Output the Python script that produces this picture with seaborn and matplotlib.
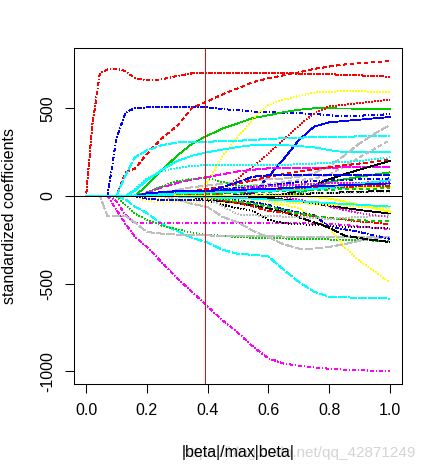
import pandas as pd
import seaborn as sns
import matplotlib.pyplot as plt

# fraction |beta|/max|beta| at which the path values below were read
frac = [0.0, 0.02, 0.045, 0.07, 0.10, 0.13, 0.16, 0.20,
        0.25, 0.30, 0.35, 0.40, 0.45, 0.50, 0.55, 0.60,
        0.65, 0.70, 0.75, 0.80, 0.85, 0.90, 0.95, 1.00]

# positive paths
p01 = [0, 400, 700, 722, 726, 712, 672, 660, 665, 685, 700, 701, 700, 700, 700, 700, 700, 698, 697, 695, 690, 688, 684, 680]
p02 = [0, 0, 0, 0, 330, 477, 500, 505, 505, 505, 505, 505, 495, 490, 482, 478, 475, 472, 468, 460, 456, 458, 462, 467]
p03 = [0, 0, 0, 0, 0, 136, 155, 240, 330, 400, 505, 540, 580, 615, 650, 672, 688, 705, 725, 738, 750, 757, 763, 770]
p04 = [0, 0, 0, 0, 0, 0, 0, 60, 150, 230, 300, 345, 385, 415, 445, 460, 478, 492, 500, 500, 499, 498, 497, 497]
p05 = [0, 0, 0, 0, 0, 0, 0, 0, 0, 0, 0, 80, 230, 340, 440, 520, 550, 570, 590, 595, 597, 597, 595, 592]
p06 = [0, 0, 0, 0, 0, 0, 0, 0, 0, 0, 0, 20, 50, 100, 170, 240, 320, 400, 470, 510, 520, 530, 540, 550]
p07 = [0, 0, 0, 0, 0, 0, 0, 0, 0, 0, 0, 0, 0, 5, 15, 110, 210, 318, 395, 420, 428, 435, 443, 450]
p08 = [0, 0, 0, 0, 0, 120, 220, 260, 290, 305, 310, 310, 312, 315, 320, 325, 330, 333, 335, 337, 338, 340, 340, 340]
p09 = [0, 0, 0, 0, 0, 0, 30, 90, 150, 200, 230, 250, 265, 280, 290, 292, 290, 285, 278, 262, 250, 250, 250, 250]
p10 = [0, 0, 0, 0, 0, 0, 0, 5, 20, 35, 50, 60, 70, 80, 90, 95, 100, 110, 130, 170, 230, 300, 355, 405]
p11 = [0, 0, 0, 0, 0, 0, 0, 0, 0, 10, 20, 30, 40, 50, 60, 70, 80, 90, 100, 120, 170, 220, 270, 318]
p12 = [0, 0, 0, 0, 0, 0, 40, 100, 140, 160, 172, 176, 176, 177, 178, 178, 179, 180, 185, 190, 195, 200, 210, 220]
p13 = [0, 0, 0, 0, 0, 0, 0, 20, 50, 75, 95, 108, 125, 140, 150, 158, 160, 160, 161, 162, 163, 164, 165, 165]
p14 = [0, 0, 0, 0, 0, 0, 0, 20, 55, 85, 98, 102, 80, 60, 55, 55, 56, 57, 58, 58, 59, 60, 60, 60]
p15 = [0, 0, 0, 0, 0, 0, 0, 0, 0, 0, 0, 0, 0, 0, 0, 0, 10, 30, 60, 95, 125, 150, 175, 200]
p16 = [0, 0, 0, 0, 0, 0, 0, 0, 0, 0, 0, 0, 0, 0, 0, 0, 0, 15, 45, 80, 95, 110, 122, 135]
p17 = [0, 0, 0, 0, 0, 0, 0, 0, 10, 20, 30, 40, 55, 70, 90, 110, 125, 140, 152, 165, 175, 185, 197, 210]
p18 = [0, 0, 0, 0, 0, 0, 0, 0, 5, 15, 20, 25, 50, 80, 110, 118, 119, 120, 120, 120, 120, 120, 120, 120]
p19 = [0, 0, 0, 0, 0, 0, 0, 10, 18, 25, 28, 30, 38, 45, 52, 60, 70, 80, 85, 90, 92, 95, 98, 100]
p20 = [0, 0, 0, 0, 0, 0, 0, 0, 5, 10, 15, 20, 25, 30, 35, 40, 42, 44, 45, 45, 47, 48, 49, 50]
p21 = [0, 0, 0, 0, 0, 0, 5, 8, 10, 12, 14, 15, 20, 25, 28, 30, 33, 36, 38, 40, 48, 55, 62, 70]
p22 = [0, 0, 0, 0, 0, 0, 0, 0, 0, 5, 12, 20, 30, 40, 50, 55, 60, 65, 70, 72, 74, 76, 78, 80]
p23 = [0, 0, 0, 0, 0, 0, 0, 0, 0, 0, 5, 10, 15, 20, 25, 30, 35, 40, 45, 48, 52, 55, 58, 60]
p24 = [0, 0, 0, 0, 0, 0, 0, 0, 0, 0, 0, 0, 0, 0, 2, 5, 8, 12, 15, 18, 21, 24, 27, 30]
p25 = [0, 0, 0, 0, 0, 0, 0, 0, 2, 5, 8, 10, 14, 18, 22, 25, 28, 30, 33, 36, 38, 40, 42, 45]
p26 = [0, 0, 0, 0, 0, 0, 0, 5, 10, 15, 18, 20, 22, 25, 27, 30, 32, 35, 40, 50, 60, 70, 80, 90]
p27 = [0, 0, 0, 0, 0, 0, 0, 0, 0, 0, 0, 0, 0, 3, 6, 9, 12, 14, 16, 18, 19, 20, 20, 20]
p28 = [0, 0, 0, 0, 0, 0, 0, 15, 22, 28, 30, 30, 32, 35, 38, 40, 45, 50, 55, 58, 62, 65, 68, 72]

# negative paths
n01 = [0, 0, 0, 0, -80, -160, -230, -290, -380, -470, -550, -630, -710, -780, -860, -925, -955, -968, -978, -985, -990, -993, -997, -1000]
n02 = [0, 0, 0, 0, 0, -20, -60, -97, -160, -200, -239, -265, -307, -330, -335, -345, -420, -490, -545, -575, -578, -580, -582, -585]
n03 = [0, 0, 0, 0, -30, -110, -153, -152, -152, -152, -153, -153, -153, -154, -154, -155, -155, -156, -157, -158, -165, -175, -182, -187]
n04 = [0, 0, 0, 0, -5, -50, -100, -136, -170, -190, -210, -220, -228, -233, -238, -240, -242, -244, -246, -248, -250, -252, -254, -256]
n05 = [0, 0, 0, -114, -114, -114, -150, -205, -215, -220, -222, -225, -226, -228, -229, -230, -231, -232, -232, -233, -233, -233, -233, -233]
n06 = [0, 0, 0, 0, 0, 0, 0, 0, 0, -20, -45, -63, -120, -150, -200, -235, -275, -300, -300, -290, -275, -255, -240, -233]
n07 = [0, 0, 0, 0, 0, 0, 0, -30, -34, -34, -34, -35, -38, -40, -42, -45, -50, -70, -119, -180, -290, -370, -430, -494]
n08 = [0, 0, 0, 0, 0, 0, 0, 0, 0, 0, 0, -25, -50, -70, -85, -136, -155, -160, -165, -170, -175, -178, -180, -182]
n09 = [0, 0, 0, 0, 0, 0, 0, -15, -22, -23, -23, -23, -20, -25, -35, -51, -75, -95, -108, -176, -190, -205, -225, -244]
n10 = [0, 0, 0, 0, 0, 0, 0, 0, 0, 0, -5, -20, -30, -40, -55, -70, -90, -120, -150, -180, -225, -240, -252, -262]
n11 = [0, 0, 0, 0, 0, 0, 0, 0, 0, 0, 0, -10, -25, -40, -60, -85, -95, -105, -115, -125, -135, -145, -152, -160]
n12 = [0, 0, 0, 0, 0, 0, 0, 0, 0, 0, -5, -10, -20, -30, -45, -60, -80, -100, -115, -125, -132, -138, -142, -145]
n13 = [0, 0, 0, 0, 0, 0, 0, 0, 0, 0, 0, 0, 0, 0, -5, -10, -20, -30, -42, -55, -68, -80, -90, -100]
n14 = [0, 0, 0, 0, 0, 0, 0, 0, 0, 0, -5, -10, -60, -105, -110, -115, -117, -118, -125, -130, -125, -120, -115, -110]
n15 = [0, 0, 0, 0, 0, 0, 0, 0, 0, 0, 0, 0, 0, 0, 0, 0, -5, -20, -40, -60, -80, -97, -110, -120]
n16 = [0, 0, 0, 0, 0, 0, 0, 0, 0, 0, 0, 0, 0, 0, 0, 0, 0, 0, -5, -15, -30, -50, -70, -90]
n17 = [0, 0, 0, 0, 0, 0, 0, -5, -10, -12, -14, -15, -18, -22, -26, -30, -35, -40, -45, -50, -55, -60, -65, -70]
n18 = [0, 0, 0, 0, 0, 0, 0, 0, 0, -3, -6, -8, -10, -12, -15, -20, -25, -30, -35, -40, -45, -50, -55, -60]

paths = [p01, p02, p03, p04, p05, p06, p07, p08, p09, p10, p11, p12, p13, p14,
         p15, p16, p17, p18, p19, p20, p21, p22, p23, p24, p25, p26, p27, p28,
         n01, n02, n03, n04, n05, n06, n07, n08, n09, n10, n11, n12, n13, n14,
         n15, n16, n17, n18]
path_names = ['p%02d' % (i + 1) for i in range(28)] + ['n%02d' % (i + 1) for i in range(18)]

cut_frac = 0.39
x_ticks = [0.0, 0.2, 0.4, 0.6, 0.8, 1.0]
x_tick_labels = ['0.0', '0.2', '0.4', '0.6', '0.8', '1.0']
y_ticks = [500, 0, -500, -1000]
y_tick_labels = ['500', '0', '-500', '-1000']

LW = 0.6  # ~0.83 px, stays one pixel wide without antialiasing

# R default palette and line types (dash lengths in pixels, rescaled to linewidth units)
R_COL = {'black': '#000000', 'red': '#FF0000', 'green': '#00CD00', 'blue': '#0000FF',
         'cyan': '#00FFFF', 'magenta': '#FF00FF', 'yellow': '#FFFF00', 'gray': '#BEBEBE'}
R_LTY_PX = {'solid': (), 'dashed': (4, 4), 'dotted': (1, 3), 'dotdash': (1, 3, 4, 3),
            'longdash': (7, 3), 'twodash': (2, 2, 6, 2)}
px_to_units = 0.72 / LW
R_LTY = {k: (tuple(v * px_to_units for v in pat) if pat else '') for k, pat in R_LTY_PX.items()}

path_cols = ['red', 'blue', 'red', 'green', 'yellow', 'red', 'blue', 'cyan', 'cyan', 'gray',
             'gray', 'cyan', 'magenta', 'green', 'black', 'green', 'red', 'blue', 'blue', 'yellow',
             'cyan', 'magenta', 'red', 'black', 'green', 'cyan', 'gray', 'blue',
             'magenta', 'cyan', 'magenta', 'green', 'gray', 'gray', 'yellow', 'black', 'blue', 'black',
             'red', 'green', 'black', 'gray', 'magenta', 'yellow', 'yellow', 'cyan']
path_ltys = ['dotdash', 'dotdash', 'dashed', 'solid', 'dotted', 'dotted', 'solid', 'longdash', 'solid', 'longdash',
             'dashed', 'dotted', 'longdash', 'dotted', 'solid', 'solid', 'dashed', 'longdash', 'dotdash', 'solid',
             'dotdash', 'dotted', 'dotdash', 'longdash', 'dashed', 'solid', 'dotted', 'solid',
             'dotdash', 'longdash', 'dotdash', 'dotted', 'longdash', 'longdash', 'dotted', 'dotted', 'dotdash', 'longdash',
             'dotdash', 'dashed', 'solid', 'dotted', 'dotted', 'solid', 'dotted', 'solid']

# long table for seaborn
rows = []
for name, vals in zip(path_names, paths):
    for f, v in zip(frac, vals):
        rows.append((name, f, v))
df = pd.DataFrame(rows, columns=['path', 'frac', 'coef'])

palette = {n: R_COL[c] for n, c in zip(path_names, path_cols)}
dashes = {n: R_LTY[l] for n, l in zip(path_names, path_ltys)}

sns.set_theme(style='white')
plt.rcParams['font.family'] = ['Liberation Sans', 'DejaVu Sans']
plt.rcParams['axes.unicode_minus'] = False

fig = plt.figure(figsize=(4.25, 4.72), dpi=100)
ax = fig.add_axes([74 / 425, 1 - 384 / 472, 328 / 425, 336 / 472])

sns.lineplot(data=df, x='frac', y='coef', hue='path', style='path', palette=palette,
             dashes=dashes, estimator=None, sort=False, legend=False,
             linewidth=LW, antialiased=False, ax=ax)

ax.axhline(0, color='black', linewidth=LW, antialiased=False)
ax.axvline(cut_frac, color='red', linewidth=LW, antialiased=False)

ax.set_xlim(-0.04, 1.04)
ax.set_ylim(-1072, 844)
ax.set_xticks(x_ticks)
ax.set_xticklabels(x_tick_labels)
ax.set_yticks(y_ticks)
ax.set_yticklabels(y_tick_labels, rotation=90, va='center')
ax.tick_params(direction='out', length=6.5, width=0.75, color='black', labelsize=11.5,
               labelcolor='black', left=True, bottom=True)
ax.tick_params(axis='x', pad=7)
ax.tick_params(axis='y', pad=7)
for s in ax.spines.values():
    s.set_color('black')
    s.set_linewidth(0.75)

ax.set_xlabel('|beta|/max|beta|', fontsize=11.5, color='black')
ax.set_ylabel('standardized coefficients', fontsize=11.5, color='black')
ax.xaxis.label.set_va('center')
ax.yaxis.label.set_va('center')
ax.xaxis.set_label_coords(0.5, -0.205)
ax.yaxis.set_label_coords(-0.198, 0.5)

# faint blog watermark in the bottom-right corner
fig.text(415 / 425, 1 - 453 / 472, 'https://blog.csdn.net/qq_42871249', ha='right', va='center',
         fontsize=11, color='#d4d4d4', zorder=-1)

fig.savefig('out.png', dpi=100)
